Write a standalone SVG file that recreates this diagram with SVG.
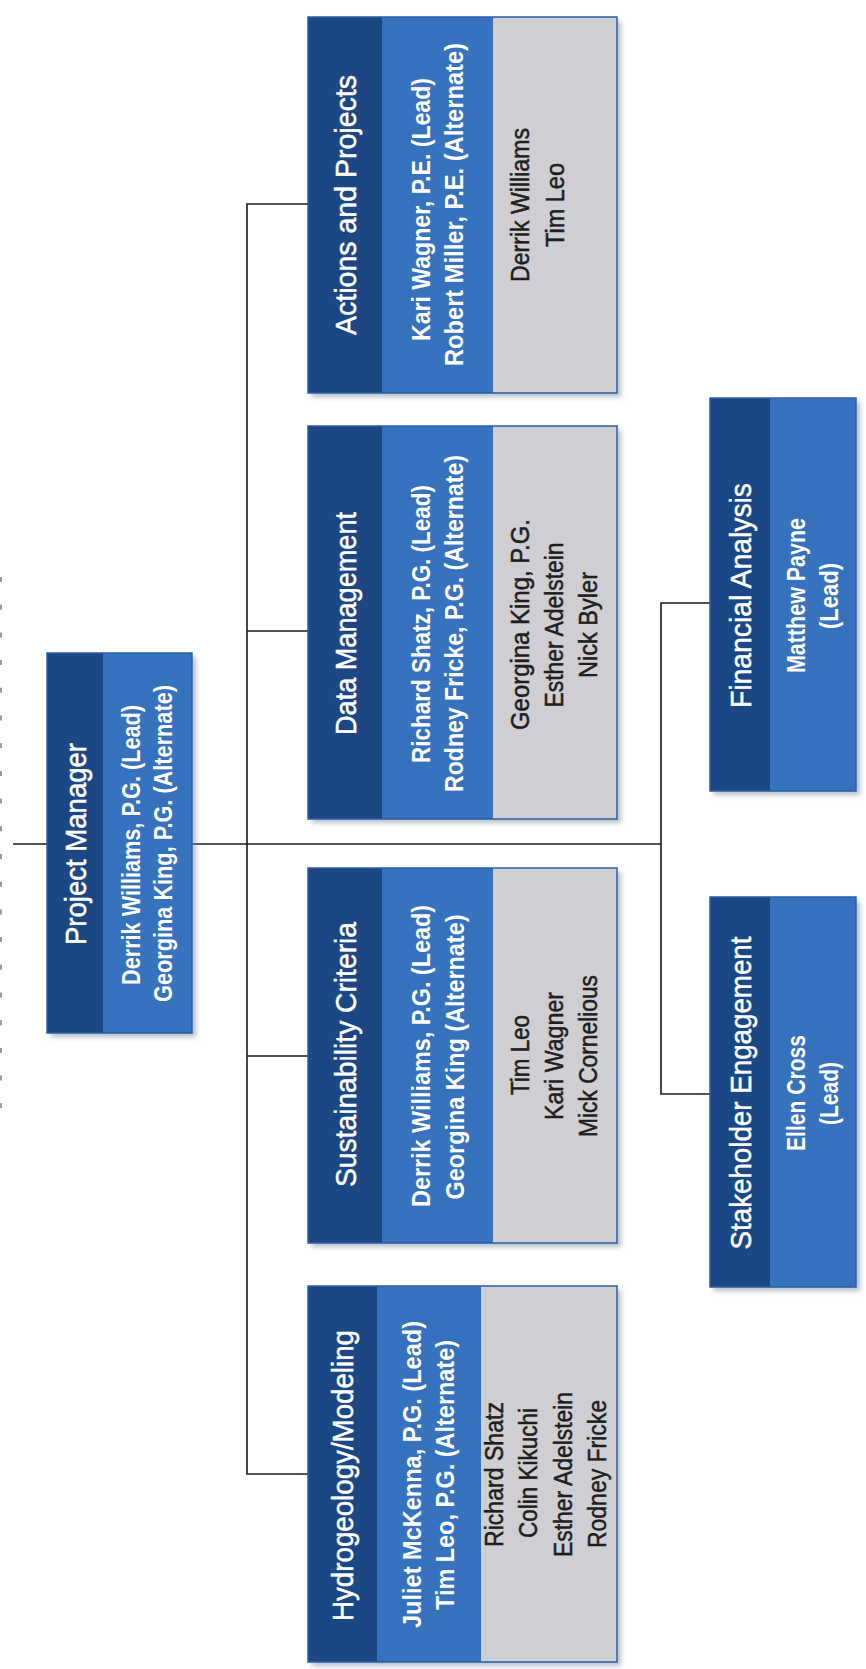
<svg xmlns="http://www.w3.org/2000/svg" width="866" height="1669" viewBox="0 0 866 1669">
<style>
.dk{fill:#1b4785}
.md{fill:#3672bd}
.gy{fill:#cfcfd3}
.bd{fill:none;stroke:#2b5ea6;stroke-width:1.5}
.bg{fill:#3672bd;filter:url(#sh)}
text{font-family:"Liberation Sans",Arial,sans-serif;text-anchor:middle}
.t{fill:#fff;font-size:30px;stroke:#fff;stroke-width:0.5}
.l{fill:#fff;font-size:25px;font-weight:bold}
.m{fill:#1e1e1e;font-size:25px;stroke:#1e1e1e;stroke-width:0.5}
.c{fill:none;stroke:#1a1a1a;stroke-width:1.6}
.dash{fill:none;stroke:#9a9a9a;stroke-width:2;stroke-dasharray:5 22.7}
</style>
<defs>
<filter id="sh" x="-10%" y="-10%" width="130%" height="130%">
<feDropShadow dx="4" dy="4" stdDeviation="2.5" flood-color="#7a8aa0" flood-opacity="0.55"/>
</filter>
</defs>
<rect width="866" height="1669" fill="#fff"/>
<line class="dash" x1="1" y1="577" x2="1" y2="1120"/>

<g id="connectors">
<polyline class="c" points="13,844 661,844"/>
<polyline class="c" points="308,204 247,204 247,1474 308,1474"/>
<line class="c" x1="247" y1="631" x2="308" y2="631"/>
<line class="c" x1="247" y1="1056" x2="308" y2="1056"/>
<polyline class="c" points="710,603 661,603 661,1094 710,1094"/>
</g>

<g id="project-manager">
<rect class="bg" x="47" y="653" width="145" height="380"/>
<rect class="dk" x="47" y="653" width="56" height="380"/>
<rect class="md" x="103" y="653" width="89" height="380"/>
<rect class="bd" x="47" y="653" width="145" height="380"/>
<text class="t" transform="translate(86,844) rotate(-90)" textLength="202" lengthAdjust="spacingAndGlyphs">Project Manager</text>
<text class="l" transform="translate(139.5,845) rotate(-90)" textLength="280" lengthAdjust="spacingAndGlyphs">Derrik Williams, P.G. (Lead)</text>
<text class="l" transform="translate(171.5,843.5) rotate(-90)" textLength="317" lengthAdjust="spacingAndGlyphs">Georgina King, P.G. (Alternate)</text>
</g>

<g id="actions-projects">
<rect class="bg" x="308" y="17" width="309" height="376"/>
<rect class="dk" x="308" y="17" width="74" height="376"/>
<rect class="md" x="382" y="17" width="111" height="376"/>
<rect class="gy" x="493" y="17" width="124" height="376"/>
<rect class="bd" x="308" y="17" width="309" height="376"/>
<text class="t" transform="translate(356,205) rotate(-90)" textLength="260" lengthAdjust="spacingAndGlyphs">Actions and Projects</text>
<text class="l" transform="translate(430,209.5) rotate(-90)" textLength="263" lengthAdjust="spacingAndGlyphs">Kari Wagner, P.E. (Lead)</text>
<text class="l" transform="translate(463,204.5) rotate(-90)" textLength="323" lengthAdjust="spacingAndGlyphs">Robert Miller, P.E. (Alternate)</text>
<text class="m" transform="translate(529,205) rotate(-90)" textLength="154" lengthAdjust="spacingAndGlyphs">Derrik Williams</text>
<text class="m" transform="translate(564,205) rotate(-90)" textLength="84" lengthAdjust="spacingAndGlyphs">Tim Leo</text>
</g>

<g id="data-management">
<rect class="bg" x="308" y="426" width="309" height="393"/>
<rect class="dk" x="308" y="426" width="74" height="393"/>
<rect class="md" x="382" y="426" width="111" height="393"/>
<rect class="gy" x="493" y="426" width="124" height="393"/>
<rect class="bd" x="308" y="426" width="309" height="393"/>
<text class="t" transform="translate(356,623.5) rotate(-90)" textLength="223" lengthAdjust="spacingAndGlyphs">Data Management</text>
<text class="l" transform="translate(430,624) rotate(-90)" textLength="278" lengthAdjust="spacingAndGlyphs">Richard Shatz, P.G. (Lead)</text>
<text class="l" transform="translate(463,623.5) rotate(-90)" textLength="337" lengthAdjust="spacingAndGlyphs">Rodney Fricke, P.G. (Alternate)</text>
<text class="m" transform="translate(529,624.5) rotate(-90)" textLength="211" lengthAdjust="spacingAndGlyphs">Georgina King, P.G.</text>
<text class="m" transform="translate(563,625) rotate(-90)" textLength="165" lengthAdjust="spacingAndGlyphs">Esther Adelstein</text>
<text class="m" transform="translate(597,625) rotate(-90)" textLength="106" lengthAdjust="spacingAndGlyphs">Nick Byler</text>
</g>

<g id="sustainability-criteria">
<rect class="bg" x="308" y="868" width="309" height="375"/>
<rect class="dk" x="308" y="868" width="74" height="375"/>
<rect class="md" x="382" y="868" width="111" height="375"/>
<rect class="gy" x="493" y="868" width="124" height="375"/>
<rect class="bd" x="308" y="868" width="309" height="375"/>
<text class="t" transform="translate(356,1054.5) rotate(-90)" textLength="265" lengthAdjust="spacingAndGlyphs">Sustainability Criteria</text>
<text class="l" transform="translate(430,1056) rotate(-90)" textLength="302" lengthAdjust="spacingAndGlyphs">Derrik Williams, P.G. (Lead)</text>
<text class="l" transform="translate(464,1057) rotate(-90)" textLength="285" lengthAdjust="spacingAndGlyphs">Georgina King (Alternate)</text>
<text class="m" transform="translate(529,1055) rotate(-90)" textLength="80" lengthAdjust="spacingAndGlyphs">Tim Leo</text>
<text class="m" transform="translate(563,1056) rotate(-90)" textLength="128" lengthAdjust="spacingAndGlyphs">Kari Wagner</text>
<text class="m" transform="translate(597,1056) rotate(-90)" textLength="162" lengthAdjust="spacingAndGlyphs">Mick Cornelious</text>
</g>

<g id="hydrogeology-modeling">
<rect class="bg" x="308" y="1286" width="309" height="376"/>
<rect class="dk" x="308" y="1286" width="69" height="376"/>
<rect class="md" x="377" y="1286" width="104" height="376"/>
<rect class="gy" x="481" y="1286" width="136" height="376"/>
<rect class="bd" x="308" y="1286" width="309" height="376"/>
<text class="t" transform="translate(353,1475.5) rotate(-90)" textLength="291" lengthAdjust="spacingAndGlyphs">Hydrogeology/Modeling</text>
<text class="l" transform="translate(420.5,1474.5) rotate(-90)" textLength="307" lengthAdjust="spacingAndGlyphs">Juliet McKenna, P.G. (Lead)</text>
<text class="l" transform="translate(453.5,1475) rotate(-90)" textLength="270" lengthAdjust="spacingAndGlyphs">Tim Leo, P.G. (Alternate)</text>
<text class="m" transform="translate(503,1474.5) rotate(-90)" textLength="145" lengthAdjust="spacingAndGlyphs">Richard Shatz</text>
<text class="m" transform="translate(537,1473) rotate(-90)" textLength="130" lengthAdjust="spacingAndGlyphs">Colin Kikuchi</text>
<text class="m" transform="translate(572,1474.5) rotate(-90)" textLength="165" lengthAdjust="spacingAndGlyphs">Esther Adelstein</text>
<text class="m" transform="translate(606,1474) rotate(-90)" textLength="148" lengthAdjust="spacingAndGlyphs">Rodney Fricke</text>
</g>

<g id="financial-analysis">
<rect class="bg" x="710" y="398" width="146" height="393"/>
<rect class="dk" x="710" y="398" width="60" height="393"/>
<rect class="md" x="770" y="398" width="86" height="393"/>
<rect class="bd" x="710" y="398" width="146" height="393"/>
<text class="t" transform="translate(751,595.5) rotate(-90)" textLength="225" lengthAdjust="spacingAndGlyphs">Financial Analysis</text>
<text class="l" transform="translate(805,595.5) rotate(-90)" textLength="155" lengthAdjust="spacingAndGlyphs">Matthew Payne</text>
<text class="l" transform="translate(838,596) rotate(-90)" textLength="66" lengthAdjust="spacingAndGlyphs">(Lead)</text>
</g>

<g id="stakeholder-engagement">
<rect class="bg" x="710" y="897" width="146" height="390"/>
<rect class="dk" x="710" y="897" width="60" height="390"/>
<rect class="md" x="770" y="897" width="86" height="390"/>
<rect class="bd" x="710" y="897" width="146" height="390"/>
<text class="t" transform="translate(751,1093) rotate(-90)" textLength="313" lengthAdjust="spacingAndGlyphs">Stakeholder Engagement</text>
<text class="l" transform="translate(805,1093) rotate(-90)" textLength="116" lengthAdjust="spacingAndGlyphs">Ellen Cross</text>
<text class="l" transform="translate(838,1093.5) rotate(-90)" textLength="63" lengthAdjust="spacingAndGlyphs">(Lead)</text>
</g>
</svg>
